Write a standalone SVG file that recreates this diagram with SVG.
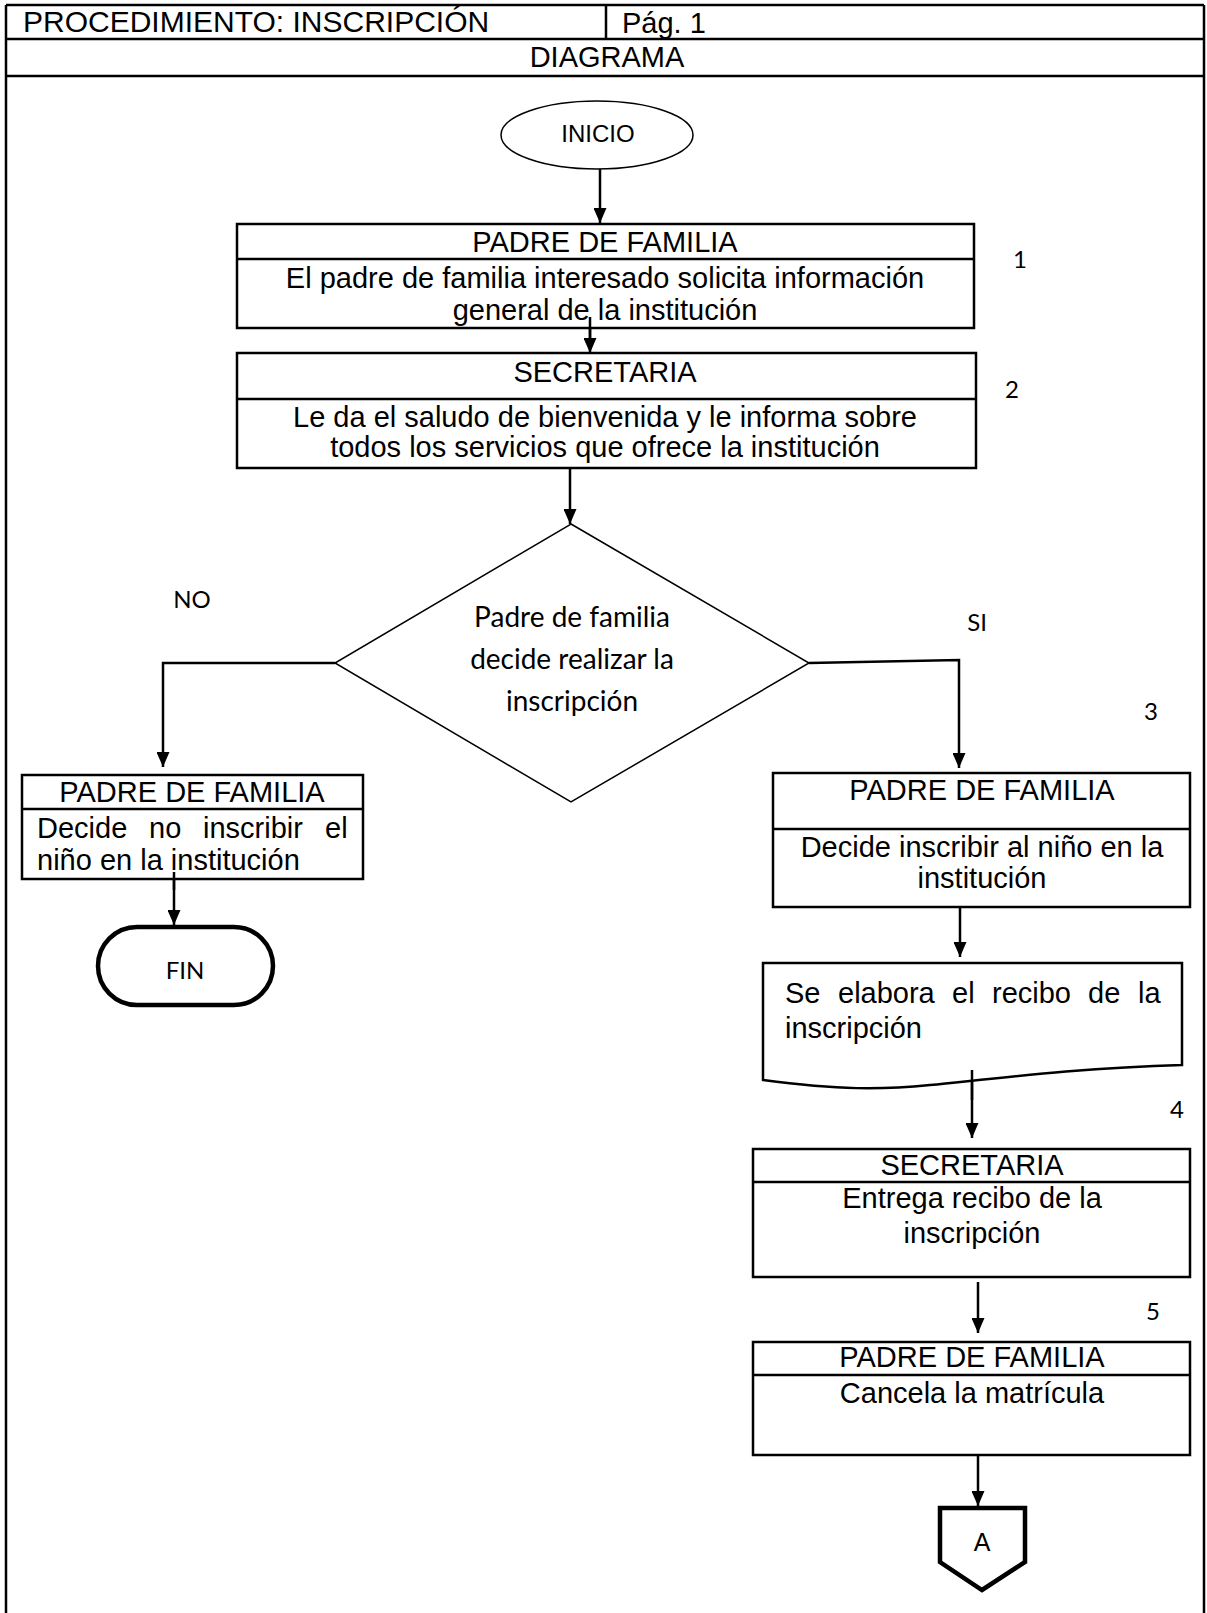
<svg xmlns="http://www.w3.org/2000/svg" width="1207" height="1613" viewBox="0 0 1207 1613">
<defs>
<style>
.ln{stroke:#000;stroke-width:2.5;fill:none}
.box{stroke:#000;stroke-width:2.5;fill:#fff}
.thin{stroke:#000;stroke-width:1.5;fill:#fff}
.thick{stroke:#000;stroke-width:4.5;fill:#fff}
.t{font-family:"Liberation Sans",Arial,sans-serif;font-size:29px;fill:#000}
.c{text-anchor:middle}
.cal{font-family:Lato,"Open Sans",sans-serif;fill:#000}
</style>
<marker id="ah" viewBox="0 0 15 13" refX="15" refY="6.5" markerWidth="15" markerHeight="13" markerUnits="userSpaceOnUse" orient="auto">
<path d="M0,0 L15,6.5 L0,13 Z" fill="#000"/>
</marker>
</defs>
<rect width="1207" height="1613" fill="#fff"/>

<g id="frame">
<path class="ln" d="M6,5 H1204 M6,39 H1204 M6,76 H1204 M6,5 V1613 M1204,5 V1613 M606,5 V39"/>
<text class="t" x="23" y="32" style="font-size:30px">PROCEDIMIENTO: INSCRIPCIÓN</text>
<text class="t" x="622" y="33">Pág. 1</text>
<text class="t c" x="607" y="67">DIAGRAMA</text>
</g>

<g id="connectors">
<path class="ln" d="M600,169 V223" marker-end="url(#ah)"/>
<path class="ln" d="M590,317 V353" marker-end="url(#ah)"/>
<path class="ln" d="M570,468 V524" marker-end="url(#ah)"/>
<path class="ln" d="M335,663 H163 V767" marker-end="url(#ah)"/>
<path class="ln" d="M174,872 V925" marker-end="url(#ah)"/>
<path class="ln" d="M809,663 L959,660 V768" marker-end="url(#ah)"/>
<path class="ln" d="M960,903 V957" marker-end="url(#ah)"/>
<path class="ln" d="M972,1082 V1138" marker-end="url(#ah)"/>
<path class="ln" d="M978,1282 V1333" marker-end="url(#ah)"/>
<path class="ln" d="M978,1455 V1506" marker-end="url(#ah)"/>
</g>

<g id="inicio">
<ellipse class="thin" cx="597" cy="135" rx="96" ry="34"/>
<text class="t c" x="598" y="142" style="font-size:24px">INICIO</text>
</g>

<g id="paso1">
<rect class="box" x="237" y="224" width="737" height="104"/>
<path class="ln" d="M237,259 H974"/>
<text class="t c" x="605" y="252">PADRE DE FAMILIA</text>
<text class="t c" x="605" y="288">El padre de familia interesado solicita información</text>
<text class="t c" x="605" y="320">general de la institución</text>
</g>
<path class="ln" d="M590,317 V340"/>

<g id="paso2">
<rect class="box" x="237" y="353" width="739" height="115"/>
<path class="ln" d="M237,399 H976"/>
<text class="t c" x="605" y="382">SECRETARIA</text>
<text class="t c" x="605" y="427">Le da el saludo de bienvenida y le informa sobre</text>
<text class="t c" x="605" y="457">todos los servicios que ofrece la institución</text>
</g>

<g id="decision">
<polygon class="thin" points="571,524 809,663 571,802 335,663"/>
<text class="cal c" x="572" y="627" font-size="28">Padre de familia</text>
<text class="cal c" x="572" y="669" font-size="28">decide realizar la</text>
<text class="cal c" x="572" y="711" font-size="28">inscripción</text>
</g>

<g id="labels">
<text class="cal c" x="192" y="608" font-size="24">NO</text>
<text class="cal c" x="977" y="631" font-size="24">SI</text>
<text class="cal c" x="1020" y="268" font-size="24">1</text>
<text class="cal c" x="1012" y="398" font-size="24">2</text>
<text class="cal c" x="1151" y="720" font-size="24">3</text>
<text class="cal c" x="1177" y="1118" font-size="24">4</text>
<text class="cal c" x="1153" y="1320" font-size="24">5</text>
</g>

<g id="no_inscribe">
<rect class="box" x="22" y="775" width="341" height="104"/>
<path class="ln" d="M22,809 H363"/>
<text class="t c" x="192" y="802">PADRE DE FAMILIA</text>
<text class="t" y="838"><tspan x="37">Decide</tspan><tspan x="149">no</tspan><tspan x="203">inscribir</tspan><tspan x="325">el</tspan></text>
<text class="t" x="37" y="870">niño en la institución</text>
</g>
<path class="ln" d="M174,872 V890"/>

<g id="fin">
<rect class="thick" x="98" y="927" width="175" height="78" rx="39" ry="39"/>
<text class="cal c" x="185" y="979" font-size="24">FIN</text>
</g>

<g id="paso3">
<rect class="box" x="773" y="773" width="417" height="134"/>
<path class="ln" d="M773,829 H1190"/>
<text class="t c" x="982" y="800">PADRE DE FAMILIA</text>
<text class="t c" x="982" y="857">Decide inscribir al niño en la</text>
<text class="t c" x="982" y="888">institución</text>
</g>

<g id="recibo">
<path class="box" d="M763,963 H1182 V1065 C1080,1068 1000,1078 930,1085 C880,1090 840,1090 763,1080 Z"/>
<text class="t" y="1003"><tspan x="785">Se</tspan><tspan x="838">elabora</tspan><tspan x="952">el</tspan><tspan x="992">recibo</tspan><tspan x="1088">de</tspan><tspan x="1138">la</tspan></text>
<text class="t" x="785" y="1038">inscripción</text>
</g>
<path class="ln" d="M972,1070 V1100"/>

<g id="paso4">
<rect class="box" x="753" y="1149" width="437" height="128"/>
<path class="ln" d="M753,1182 H1190"/>
<text class="t c" x="972" y="1175">SECRETARIA</text>
<text class="t c" x="972" y="1208">Entrega recibo de la</text>
<text class="t c" x="972" y="1243">inscripción</text>
</g>

<g id="paso5">
<rect class="box" x="753" y="1342" width="437" height="113"/>
<path class="ln" d="M753,1375 H1190"/>
<text class="t c" x="972" y="1367">PADRE DE FAMILIA</text>
<text class="t c" x="972" y="1403">Cancela la matrícula</text>
</g>

<g id="conector_A">
<path class="thick" d="M940,1508 H1025 V1562 L982,1590 L940,1562 Z"/>
<text class="t c" x="982" y="1551" style="font-size:25px">A</text>
</g>
</svg>
